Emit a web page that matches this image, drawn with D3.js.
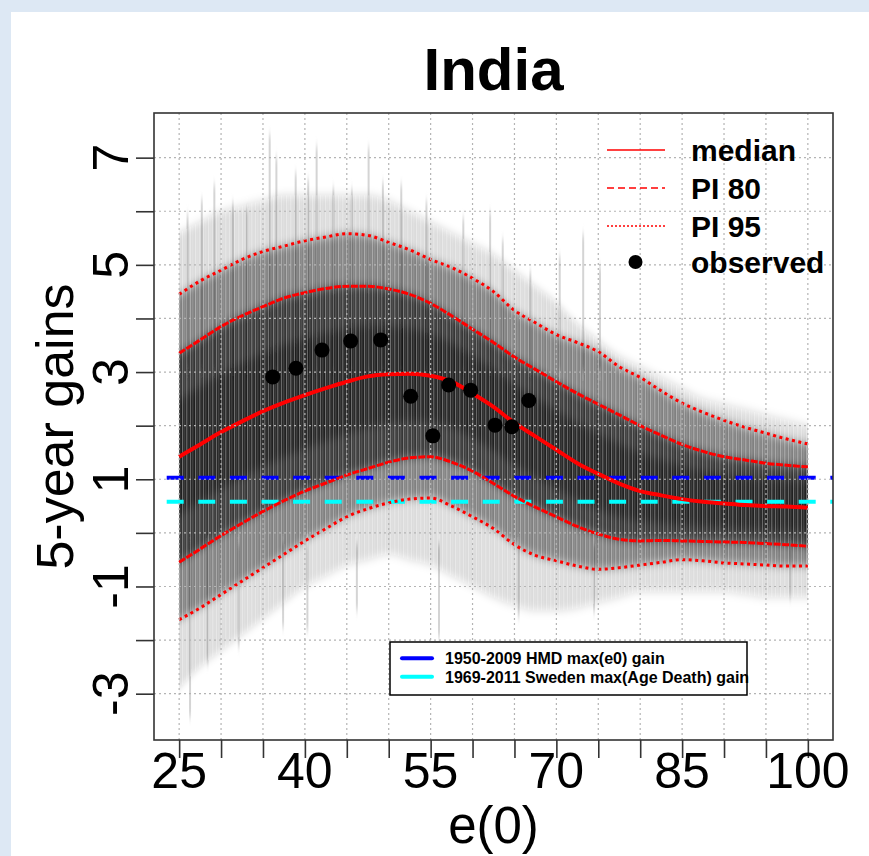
<!DOCTYPE html>
<html><head><meta charset="utf-8">
<script src="https://cdn.jsdelivr.net/npm/d3@7"></script>
<style>
html,body{margin:0;padding:0;background:#dde8f4;}
svg{display:block;font-family:"Liberation Sans",Arial,sans-serif;}
</style></head>
<body>
<svg id="chart" width="869" height="856"></svg>
<script>
// ---- data ----
const e0Grid = [25,27.5,30,32.5,35,37.5,40,42.5,45,47.5,50,52.5,55,57.5,60,62.5,65,67.5,70,72.5,75,77.5,80,82.5,85,87.5,90,92.5,95,97.5,100];
const median = [1.42,1.65,1.88,2.08,2.27,2.43,2.57,2.70,2.82,2.92,2.96,2.97,2.93,2.82,2.60,2.35,2.05,1.80,1.55,1.30,1.10,0.92,0.78,0.70,0.63,0.58,0.55,0.52,0.50,0.49,0.47];
const pi80Upper = [3.35,3.60,3.85,4.05,4.22,4.38,4.48,4.56,4.60,4.60,4.55,4.45,4.28,4.05,3.80,3.55,3.28,3.05,2.82,2.60,2.40,2.20,2.00,1.82,1.65,1.52,1.42,1.36,1.30,1.26,1.23];
const pi80Lower = [-0.55,-0.30,-0.05,0.18,0.40,0.60,0.78,0.93,1.08,1.20,1.32,1.40,1.42,1.32,1.15,0.92,0.68,0.48,0.30,0.12,-0.02,-0.12,-0.15,-0.14,-0.15,-0.16,-0.17,-0.18,-0.20,-0.22,-0.25];
const pi95Upper = [4.45,4.70,4.90,5.10,5.25,5.35,5.45,5.52,5.58,5.55,5.42,5.28,5.10,4.95,4.75,4.50,4.15,3.92,3.70,3.55,3.38,3.10,2.90,2.65,2.42,2.25,2.10,1.97,1.86,1.75,1.66];
const pi95Lower = [-1.62,-1.40,-1.15,-0.90,-0.65,-0.40,-0.15,0.08,0.30,0.45,0.56,0.63,0.65,0.50,0.30,0.08,-0.22,-0.42,-0.52,-0.62,-0.68,-0.65,-0.60,-0.55,-0.50,-0.52,-0.56,-0.58,-0.60,-0.62,-0.62];
const cloudUpper = [5.6,5.8,6.0,6.1,6.2,6.3,6.3,6.3,6.3,6.3,6.2,6.0,5.8,5.6,5.4,5.2,4.9,4.6,4.3,3.9,3.6,3.3,3.1,2.9,2.7,2.5,2.4,2.3,2.2,2.1,2.0];
const cloudLower = [-2.9,-2.5,-2.2,-1.9,-1.6,-1.3,-1.0,-0.8,-0.6,-0.5,-0.4,-0.5,-0.6,-0.8,-1.0,-1.2,-1.35,-1.45,-1.45,-1.4,-1.3,-1.2,-1.1,-1.1,-1.1,-1.1,-1.1,-1.15,-1.2,-1.2,-1.2];
const spikeE0 = [26.0,27.7,29.2,31.4,33.1,35.8,36.6,38.9,40.4,41.4,43.4,45.6,47.6,49.3,51.5,54.5,58.9,62.1,63.6,66.9,70.4,73.2,75.2,26.3,28.4,32.1,37.4,40.3,46.2,56.0,65.5,74.5,97.9];
const spikeEnd = [5.93,6.21,6.49,6.15,6.06,7.42,7.0,6.71,6.58,7.2,6.43,6.4,7.18,6.53,6.49,6.18,5.87,5.97,5.46,4.87,5.15,5.56,4.97,-3.43,-2.43,-2.12,-1.75,-1.81,-1.44,-1.94,-1.56,-1.47,-1.21];
const obsE0 = [36.16,38.94,42.04,45.46,49.04,52.62,55.26,57.15,59.78,62.68,64.69,66.71];
const obsGain = [2.91,3.07,3.41,3.58,3.60,2.55,1.81,2.76,2.66,2.01,1.98,2.47];
const hmdMaxGain = 1.03;
const swedenMaxGain = 0.58;
const xTicks = [25,30,35,40,45,50,55,60,65,70,75,80,85,90,95,100];
const xLabels = [25,40,55,70,85,100];
const yTicks = [-3,-2,-1,0,1,2,3,4,5,6,7];
const yLabels = [-3,-1,1,3,5,7];
const legendTop = ["median","PI 80","PI 95","observed"];
const legendBottom = ["1950-2009 HMD max(e0) gain","1969-2011 Sweden max(Age Death) gain"];

// ---- drawing ----
const svg = d3.select("#chart");
const L=154, R=833, T=113, B=740;
const x = d3.scaleLinear().domain([22,103]).range([L,R]);
const y = d3.scaleLinear().domain([-3.864,7.833]).range([B,T]);

svg.append("rect").attr("x",11).attr("y",12).attr("width",869-11).attr("height",856-12).attr("fill","#ffffff");

const defs = svg.append("defs");
defs.append("clipPath").attr("id","plotclip").append("rect").attr("x",L).attr("y",T).attr("width",R-L).attr("height",B-T);
const pat = defs.append("pattern").attr("id","streaks").attr("patternUnits","userSpaceOnUse").attr("width",13).attr("height",40);
[[0,1.2,0.35],[2.4,0.8,0.2],[4,1.5,0.28],[6.6,0.7,0.15],[8,1.1,0.32],[10.4,0.9,0.22]]
  .forEach(s=>pat.append("rect").attr("x",s[0]).attr("y",0).attr("width",s[1]).attr("height",40).attr("fill","#fff").attr("opacity",s[2]));
const blur = defs.append("filter").attr("id","soft").attr("x","-5%").attr("y","-20%").attr("width","110%").attr("height","140%");
blur.append("feGaussianBlur").attr("stdDeviation","0.6 5");

const idx = d3.range(e0Grid.length);
function band(lo, hi){
  return d3.area().x(i=>x(e0Grid[i])).y0(i=>y(lo[i])).y1(i=>y(hi[i])).curve(d3.curveMonotoneX)(idx);
}
const inLo = idx.map(i=>(median[i]+pi80Lower[i])/2 - 0.1);
const inHi = idx.map(i=>(median[i]+pi80Upper[i])/2 + 0.1);

const plot = svg.append("g").attr("clip-path","url(#plotclip)");
const cloud = plot.append("g").attr("filter","url(#soft)");
cloud.selectAll("line.spike").data(d3.range(spikeE0.length)).join("line")
  .attr("x1",i=>x(spikeE0[i])).attr("x2",i=>x(spikeE0[i]))
  .attr("y1",i=>y(spikeEnd[i]>0?3:-0.2)).attr("y2",i=>y(spikeEnd[i]))
  .attr("stroke","#d4d4d4").attr("stroke-width",2);
cloud.append("path").attr("d",band(cloudLower,cloudUpper)).attr("fill","#000").attr("opacity",0.14);
cloud.append("path").attr("d",band(pi95Lower,pi95Upper)).attr("fill","#000").attr("opacity",0.42);
cloud.append("path").attr("d",band(pi80Lower,pi80Upper)).attr("fill","#000").attr("opacity",0.58);
cloud.append("path").attr("d",band(inLo,inHi)).attr("fill","#000").attr("opacity",0.42);
plot.append("path").attr("d",band(cloudLower,cloudUpper)).attr("fill","url(#streaks)");

// grid
const grid = svg.append("g").attr("stroke","#b4b4b4").attr("stroke-width",1.2).attr("stroke-dasharray","2,3");
grid.selectAll("line.gx").data(xTicks).join("line").attr("x1",d=>x(d)).attr("x2",d=>x(d)).attr("y1",T).attr("y2",B);
grid.selectAll("line.gy").data(yTicks).join("line").attr("y1",d=>y(d)).attr("y2",d=>y(d)).attr("x1",L).attr("x2",R);

// reference lines
const refs = plot.append("g");
refs.append("line").attr("x1",L).attr("x2",R+4).attr("y1",y(hmdMaxGain)).attr("y2",y(hmdMaxGain))
  .attr("stroke","#0000ff").attr("stroke-width",4).attr("stroke-dasharray","17,14.6").attr("stroke-dashoffset",18.9);
refs.append("line").attr("x1",L).attr("x2",R+4).attr("y1",y(swedenMaxGain)).attr("y2",y(swedenMaxGain))
  .attr("stroke","#00ffff").attr("stroke-width",4).attr("stroke-dasharray","17,14.6").attr("stroke-dashoffset",18.9);

// red quantile curves
const line = arr => d3.line().x(i=>x(e0Grid[i])).y(i=>y(arr[i])).curve(d3.curveMonotoneX)(idx);
const red = plot.append("g").attr("fill","none").attr("stroke","#ff0000");
red.append("path").attr("d",line(pi95Upper)).attr("stroke-width",3).attr("stroke-dasharray","3,3.5");
red.append("path").attr("d",line(pi95Lower)).attr("stroke-width",3).attr("stroke-dasharray","3,3.5");
red.append("path").attr("d",line(pi80Upper)).attr("stroke-width",3).attr("stroke-dasharray","7,1.5");
red.append("path").attr("d",line(pi80Lower)).attr("stroke-width",3).attr("stroke-dasharray","7,1.5");
red.append("path").attr("d",line(median)).attr("stroke-width",4);

// observed
svg.append("g").selectAll("circle").data(d3.range(obsE0.length)).join("circle")
  .attr("cx",i=>x(obsE0[i])).attr("cy",i=>y(obsGain[i])).attr("r",7.5).attr("fill","#000");

// box
svg.append("rect").attr("x",L).attr("y",T).attr("width",R-L).attr("height",B-T).attr("fill","none").attr("stroke","#333").attr("stroke-width",1.6);

// axes
const ax = svg.append("g").attr("transform",`translate(0,${B})`).call(d3.axisBottom(x).tickValues(xTicks).tickSize(18).tickFormat(""));
const ay = svg.append("g").attr("transform",`translate(${L},0)`).call(d3.axisLeft(y).tickValues(yTicks).tickSize(18).tickFormat(""));
[ax,ay].forEach(a=>{a.select(".domain").remove(); a.selectAll("line").attr("stroke","#333").attr("stroke-width",1.6);});
svg.append("g").selectAll("text").data(xLabels).join("text")
  .attr("x",d=>x(d)).attr("y",788).attr("text-anchor","middle").attr("font-size",50).attr("fill","#000").text(d=>d);
svg.append("g").selectAll("text").data(yLabels).join("text")
  .attr("transform",d=>`translate(128,${y(d)}) rotate(-90)`).attr("text-anchor","middle").attr("font-size",50).attr("fill","#000").text(d=>d);

// titles
svg.append("text").attr("x",(L+R)/2).attr("y",90).attr("text-anchor","middle").attr("font-size",60).attr("font-weight","bold").text("India");
svg.append("text").attr("x",(L+R)/2).attr("y",843).attr("text-anchor","middle").attr("font-size",51).text("e(0)");
svg.append("text").attr("transform",`translate(73,${(T+B)/2}) rotate(-90)`).attr("text-anchor","middle").attr("font-size",52).text("5-year gains");

// top-right legend
const lg = svg.append("g");
const lgY = [150,188,226,262];
lg.selectAll("text").data(legendTop).join("text").attr("x",691).attr("y",(d,i)=>lgY[i]+11)
  .attr("font-size",30).attr("font-weight","bold").text(d=>d);
const dashes = [null,"7,4","2,2"];
[0,1,2].forEach(i=>{
  const l = lg.append("line").attr("x1",607).attr("x2",665).attr("y1",lgY[i]).attr("y2",lgY[i]).attr("stroke","#ff0000").attr("stroke-width",1.5);
  if(dashes[i]) l.attr("stroke-dasharray",dashes[i]);
});
lg.append("circle").attr("cx",635.5).attr("cy",lgY[3]).attr("r",7).attr("fill","#000");

// bottom legend
const bl = svg.append("g");
bl.append("rect").attr("x",390).attr("y",642).attr("width",357).attr("height",53).attr("fill","#fff").attr("stroke","#000").attr("stroke-width",1.5);
const blColors = ["#0000ff","#00ffff"];
const blY = [658.3,676.7];
bl.selectAll("line").data(legendBottom).join("line").attr("x1",402).attr("x2",432).attr("y1",(d,i)=>blY[i]).attr("y2",(d,i)=>blY[i])
  .attr("stroke",(d,i)=>blColors[i]).attr("stroke-width",4).attr("stroke-linecap","round");
bl.selectAll("text").data(legendBottom).join("text").attr("x",445).attr("y",(d,i)=>blY[i]+6)
  .attr("font-size",16).attr("font-weight","bold").text(d=>d);
</script>
</body></html>
